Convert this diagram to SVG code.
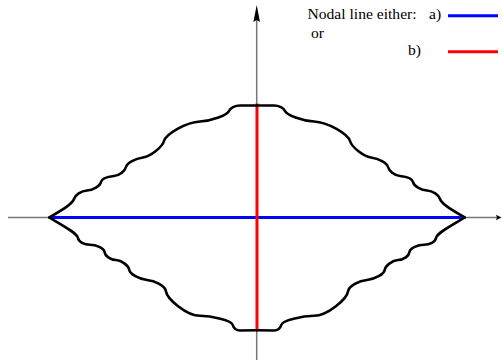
<svg xmlns="http://www.w3.org/2000/svg" width="502" height="361" viewBox="0 0 502 361">
<style>
.axis{stroke:#777;stroke-width:1.5;fill:none}
.curve{stroke:#000;stroke-width:2.6;fill:none;stroke-linejoin:round;stroke-linecap:round}
.blue{stroke:#0000ff;stroke-width:3;fill:none}
.red{stroke:#ff0000;stroke-width:3;fill:none}
.lbl{font-family:"Liberation Serif","Times New Roman",serif;font-size:15.6px;fill:#000}
</style>
<rect width="502" height="361" fill="#fff"/>
<g id="connectors">
  <line class="axis" x1="8" y1="217.5" x2="498" y2="217.5"/>
  <polygon points="501.5,217.5 496,214.8 497,217.5 496,220.2" fill="#000"/>
  <line class="axis" x1="256.7" y1="360" x2="256.7" y2="18"/>
  <polygon points="256.7,5 260,22 256.7,20 253.4,22" fill="#000"/>
</g>
<g id="nodal-lines">
  <line class="blue" x1="49.5" y1="217.5" x2="464.5" y2="217.5"/>
  <line class="red" x1="257" y1="103.5" x2="257" y2="330"/>
</g>
<g id="boundary">
  <path id="ul" class="curve" d="M49.3,217.5 C63,209.3 72.5,203.8 74,199 C75.2,195.2 81,190.8 87,190.5 C93,190.2 100.2,186 101,182 C101.8,178 108,176.6 114,176 C120,175.4 124.8,171 126,167 C127.2,163 135,158.7 143,157.5 C151,156.3 162.2,147 164,141 C166.1,134 186,122.2 200,121.5 C212,120.9 227.4,115 229,111 C230.2,108 235,105.5 240,105.5 L257,105.5"/>
  <path id="ll" class="curve" d="M49.3,217.5 C63,225.7 77,233 78,238 C78.8,242 84,244.8 90,244.8 C96,244.9 103.9,248 104.5,252 C105.1,256 110,259.7 116,260 C122,260.3 128.7,266 129.3,270 C129.9,274 139,279.2 147,280 C155,280.8 165.2,286 166,291.5 C167,298.5 186,315.8 200,315.8 C212,316 231.3,320.5 232.5,324.5 C233.4,327.5 235,330.5 240,330.5 L257,330.2"/>
  <use href="#ul" transform="matrix(-1 0 0 1 514 0)"/>
  <use href="#ll" transform="matrix(-1 0 0 1 514 0)"/>
</g>
<g id="legend">
  <text class="lbl" x="307.5" y="19.3">Nodal line either:</text>
  <text class="lbl" x="429" y="19.3">a)</text>
  <line class="blue" x1="448" y1="15.7" x2="498" y2="15.7"/>
  <text class="lbl" x="311" y="37.5">or</text>
  <text class="lbl" x="408" y="55">b)</text>
  <line class="red" x1="448" y1="51.7" x2="498" y2="51.7"/>
</g>
</svg>
